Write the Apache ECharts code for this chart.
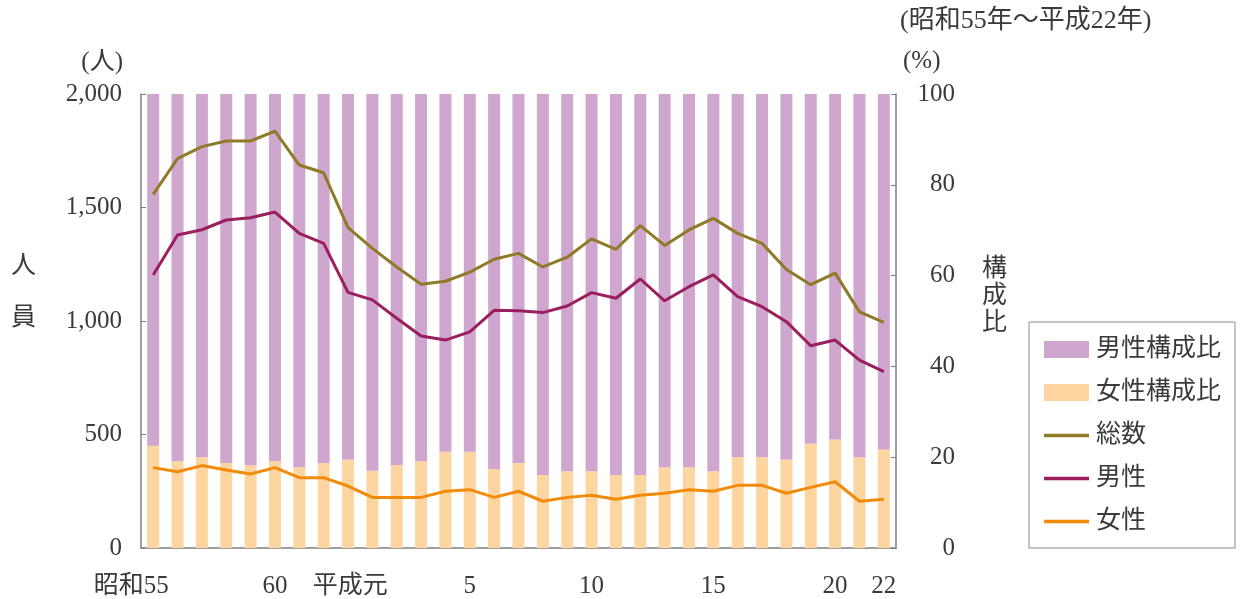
<!DOCTYPE html>
<html>
<head>
<meta charset="utf-8">
<script src="https://cdn.jsdelivr.net/npm/echarts@6/dist/echarts.min.js"></script>
<style>
  html, body { margin: 0; padding: 0; background: #fff; }
  #main { width: 1245px; height: 599px; }
</style>
</head>
<body>
<div id="main"></div>
<script>
// 年次（昭和55年～平成22年）
var years = ['昭和55', '56', '57', '58', '59', '60', '61', '62', '63', '平成元',
    '2', '3', '4', '5', '6', '7', '8', '9', '10', '11', '12', '13', '14', '15',
    '16', '17', '18', '19', '20', '21', '22'];
// 目盛に表示する年
var shownYears = ['昭和55', '60', '平成元', '5', '10', '15', '20', '22'];

// 人員（人）
var totalCount = [1558, 1715, 1768, 1793, 1793, 1836, 1687, 1653, 1411, 1320, 1238,
    1162, 1175, 1215, 1272, 1298, 1238, 1281, 1362, 1316, 1420, 1333, 1401, 1452,
    1386, 1342, 1227, 1160, 1211, 1040, 994];
var maleCount = [1203, 1379, 1402, 1445, 1455, 1480, 1386, 1342, 1126, 1093, 1012,
    934, 916, 952, 1047, 1045, 1037, 1066, 1125, 1100, 1185, 1089, 1151, 1203,
    1107, 1063, 997, 891, 916, 828, 777];
var femaleCount = [354, 336, 363, 344, 326, 354, 310, 310, 273, 223, 223, 223, 250,
    257, 223, 250, 206, 223, 232, 215, 232, 241, 257, 250, 276, 276, 241, 267, 292,
    206, 215];

// 構成比（％）
var maleShare = [77.5, 80.9, 80.0, 81.3, 81.8, 80.9, 82.2, 81.3, 80.5, 83.0, 81.8,
    80.9, 78.8, 78.8, 82.6, 81.3, 83.9, 83.1, 83.1, 83.9, 83.9, 82.2, 82.2, 83.1,
    80.0, 80.0, 80.5, 77.0, 76.1, 80.0, 78.3];
var femaleShare = [22.5, 19.1, 20.0, 18.7, 18.2, 19.1, 17.8, 18.7, 19.5, 17.0, 18.2,
    19.1, 21.2, 21.2, 17.4, 18.7, 16.1, 16.9, 16.9, 16.1, 16.1, 17.8, 17.8, 16.9,
    20.0, 20.0, 19.5, 23.0, 23.9, 20.0, 21.7];

var FONT = "'Liberation Serif', 'Noto Sans CJK JP', serif";
var TXT = '#3a3a3a';
var AXIS = '#808080';
var LINE_ICON = 'path://M0,0h45v3.5h-45z';

var myChart = echarts.init(document.getElementById('main'));

function fmtComma(v) {
    return String(v).replace(/\B(?=(\d{3})+(?!\d))/g, ',');
}

var option = {
    animation: false,
    textStyle: { fontFamily: FONT, color: TXT },
    grid: { left: 141, right: 349, top: 94, bottom: 51 },
    legend: {
        orient: 'vertical',
        left: 1029,
        top: 322,
        padding: [15, 14, 14, 15],
        borderColor: '#8a8a8a',
        borderWidth: 1,
        itemWidth: 45,
        itemHeight: 17,
        itemGap: 18,
        symbolKeepAspect: true,
        textStyle: { fontFamily: FONT, fontSize: 25, color: TXT, padding: [0, 0, 0, 2] },
        data: [
            { name: '男性構成比', icon: 'rect' },
            { name: '女性構成比', icon: 'rect' },
            { name: '総数', icon: LINE_ICON },
            { name: '男性', icon: LINE_ICON },
            { name: '女性', icon: LINE_ICON }
        ]
    },
    xAxis: {
        type: 'category',
        data: years,
        axisLine: { lineStyle: { color: AXIS, width: 1.5 } },
        axisTick: { show: false },
        axisLabel: {
            interval: 0,
            margin: 26,
            fontSize: 25,
            fontFamily: FONT,
            color: TXT,
            formatter: function (v) {
                if (shownYears.indexOf(v) < 0) return '';
                if (v.length > 2) return '{w|' + v + '}';
                return v;
            },
            rich: {
                w: { fontSize: 25, fontFamily: FONT, color: TXT, padding: [0, 44, 0, 0] }
            }
        }
    },
    yAxis: [{
        type: 'value',
        min: 0,
        max: 2000,
        interval: 500,
        splitLine: { show: false },
        axisLine: { show: true, lineStyle: { color: AXIS, width: 1.5 } },
        axisTick: { show: true, inside: true, length: 5, lineStyle: { color: AXIS } },
        axisLabel: {
            margin: 19,
            fontSize: 25,
            fontFamily: FONT,
            color: TXT,
            formatter: fmtComma
        }
    }, {
        type: 'value',
        min: 0,
        max: 100,
        interval: 20,
        splitLine: { show: false },
        axisLine: { show: true, lineStyle: { color: AXIS, width: 1.5 } },
        axisTick: { show: true, inside: true, length: 5, lineStyle: { color: AXIS } },
        axisLabel: {
            margin: 59,
            align: 'right',
            fontSize: 25,
            fontFamily: FONT,
            color: TXT
        }
    }],
    graphic: [
        { type: 'text', right: 1245 - 123, top: 50, style: { text: '(人)', font: '25px ' + FONT, fill: TXT } },
        { type: 'text', left: 903, top: 49, style: { text: '(%)', font: '25px ' + FONT, fill: TXT } },
        { type: 'text', left: 900, top: 8, style: { text: '(昭和55年～平成22年)', font: '26px ' + FONT, fill: TXT } },
        { type: 'text', left: 11, top: 254, style: { text: '人', font: '25px ' + FONT, fill: TXT } },
        { type: 'text', left: 11, top: 306, style: { text: '員', font: '25px ' + FONT, fill: TXT } },
        { type: 'text', left: 982, top: 256, style: { text: '構\n成\n比', font: '25px ' + FONT, fill: TXT, lineHeight: 27 } }
    ],
    series: [{
        name: '女性構成比',
        type: 'bar',
        yAxisIndex: 1,
        stack: 'share',
        barWidth: 12,
        itemStyle: { color: '#fcd5a1' },
        data: femaleShare
    }, {
        name: '男性構成比',
        type: 'bar',
        yAxisIndex: 1,
        stack: 'share',
        barWidth: 12,
        itemStyle: { color: '#cfa6cd' },
        data: maleShare
    }, {
        name: '総数',
        type: 'line',
        yAxisIndex: 0,
        symbol: 'none',
        lineStyle: { color: '#8f7a28', width: 3 },
        itemStyle: { color: '#8f7a28' },
        data: totalCount
    }, {
        name: '男性',
        type: 'line',
        yAxisIndex: 0,
        symbol: 'none',
        lineStyle: { color: '#9b1f5f', width: 3 },
        itemStyle: { color: '#9b1f5f' },
        data: maleCount
    }, {
        name: '女性',
        type: 'line',
        yAxisIndex: 0,
        symbol: 'none',
        lineStyle: { color: '#f28a0a', width: 3 },
        itemStyle: { color: '#f28a0a' },
        data: femaleCount
    }]
};

myChart.setOption(option);
</script>
</body>
</html>
